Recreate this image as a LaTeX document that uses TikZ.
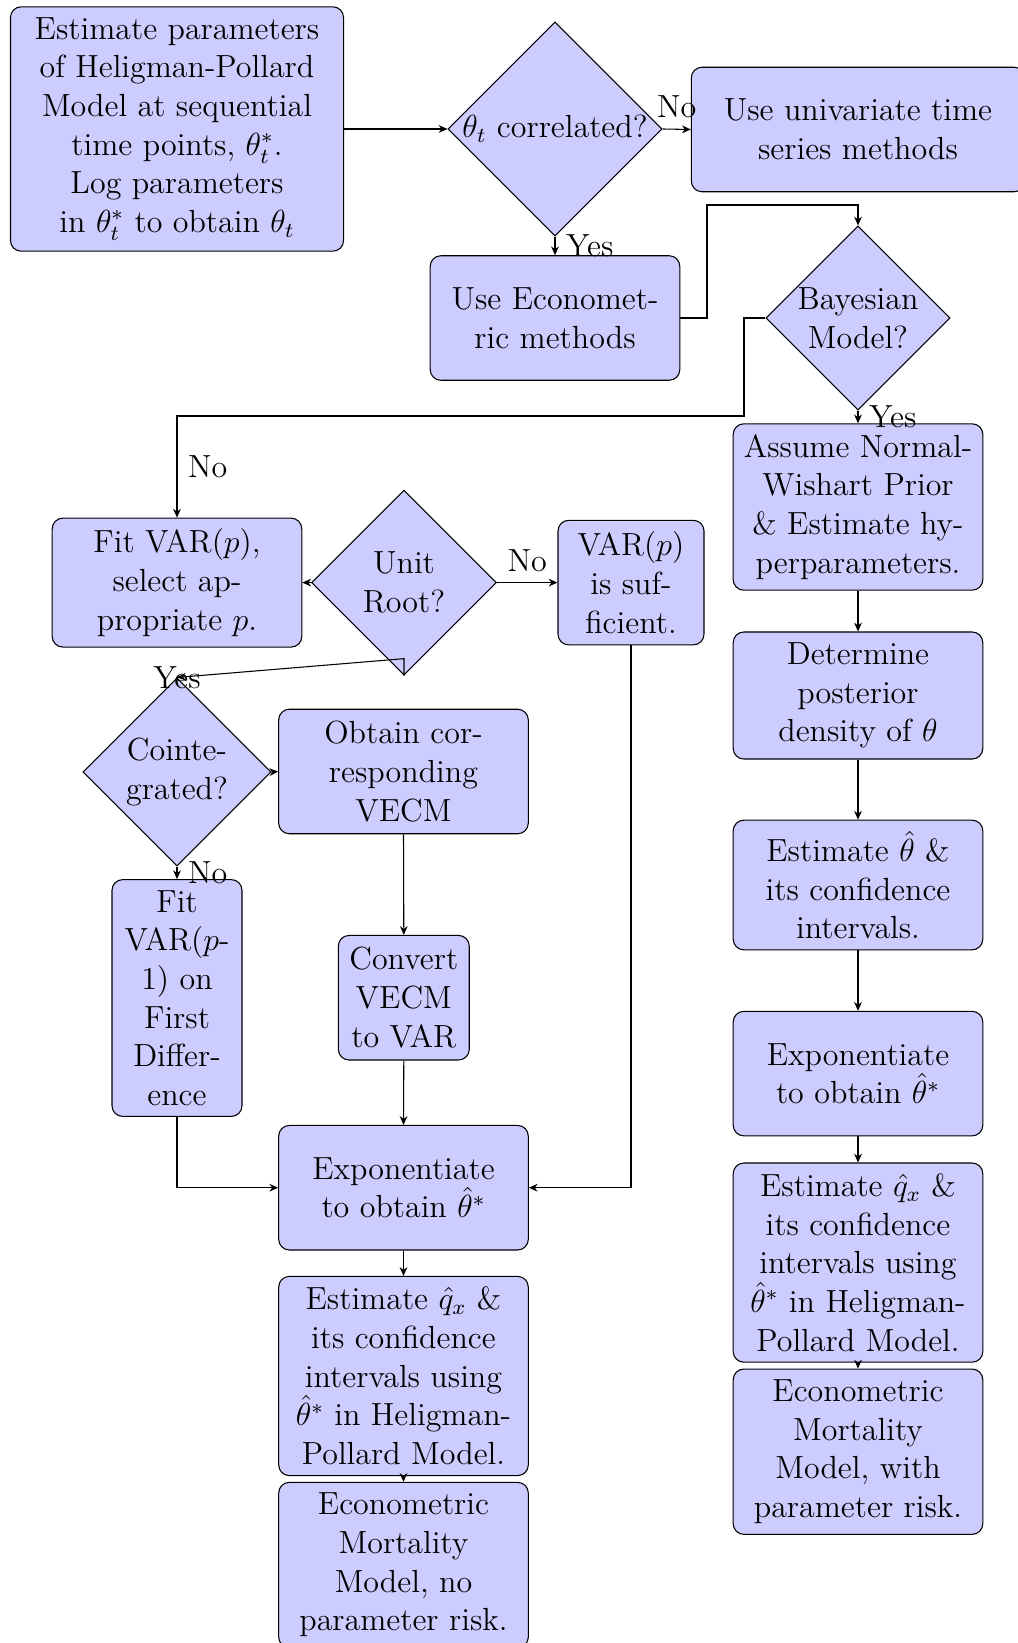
\documentclass[tikz,12pt,border=0pt]{standalone}
\usetikzlibrary{shapes.geometric,arrows.meta}
\begin{document}
\begin{tikzpicture}[x=0.375pt,y=-0.375pt,
  box/.style={rectangle, rounded corners, draw, fill=blue!20, align=center, minimum width=93.6pt, minimum height=46.7pt},
  dec/.style={diamond, draw, fill=blue!20, align=center, inner sep=0pt, aspect=1},
  conn/.style={draw, -{Stealth[length=3.3pt,width=2.9pt]}}]
\useasboundingbox (0,0) rectangle (1017,1643);
% nodes
\node[box, minimum width=124.9pt] (start) at (177,129) {Estimate parameters\\of Heligman-Pollard\\Model at sequential\\time points, $\theta_t^{*}$.\\Log parameters\\in $\theta_t^{*}$ to obtain $\theta_t$};
\node[dec, minimum width=80.25pt, minimum height=80.25pt] (corr) at (555,129) {$\theta_t$ correlated?};
\node[box, minimum width=125pt] (univ) at (858,129.5) {Use univariate time\\series methods};
\node[box] (econ) at (555,318) {Use Economet-\\ric methods};
\node[dec, minimum width=69pt, minimum height=69pt] (bayes) at (858,318) {Bayesian\\Model?};
\node[box] (assume) at (858,507) {Assume Normal-\\Wishart Prior\\\& Estimate hy-\\perparameters.};
\node[box] (fitvar) at (177,582.6) {Fit VAR($p$),\\select ap-\\propriate $p$.};
\node[dec, minimum width=69.4pt, minimum height=69.4pt] (unit) at (404,582.6) {Unit\\Root?};
\node[box, minimum width=54.75pt] (varsuf) at (631,582.6) {VAR($p$)\\is suf-\\ficient.};
\node[dec, minimum width=70.5pt, minimum height=70.5pt] (coint) at (177,772) {Cointe-\\grated?};
\node[box] (vecm) at (403.5,771.5) {Obtain cor-\\responding\\VECM};
\node[box, minimum width=48.75pt] (fitvarone) at (177,998) {Fit\\VAR($p$-\\1) on\\First\\Differ-\\ence};
\node[box, minimum width=49.1pt] (convert) at (403.8,997.7) {Convert\\VECM\\to VAR};
\node[box] (expl) at (403.5,1187.7) {Exponentiate\\to obtain $\hat{\theta}^{*}$};
\node[box] (qxl) at (403.5,1376) {Estimate $\hat{q}_x$ \&\\its confidence\\intervals using\\$\hat{\theta}^{*}$ in Heligman-\\Pollard Model.};
\node[box] (econl) at (403.5,1565) {Econometric\\Mortality\\Model, no\\parameter risk.};
\node[box] (det) at (858,695.5) {Determine\\posterior\\density of $\theta$};
\node[box] (esttheta) at (858,885) {Estimate $\hat{\theta}$ \&\\its confidence\\intervals.};
\node[box] (expr) at (858,1073.6) {Exponentiate\\to obtain $\hat{\theta}^{*}$};
\node[box] (qxr) at (858,1262.6) {Estimate $\hat{q}_x$ \&\\its confidence\\intervals using\\$\hat{\theta}^{*}$ in Heligman-\\Pollard Model.};
\node[box] (econr) at (858,1451.7) {Econometric\\Mortality\\Model, with\\parameter risk.};
% helper coordinates
\coordinate (ca) at (707,205);
\coordinate (cb) at (744,416);
% connectors
\path[conn] (start.east) -- (corr.west);
\path[conn] (corr.east) -- node[midway, above] {No} (univ.west);
\path[conn] (corr.south) -- node[midway, right] {Yes} (econ.north);
\path[conn] (econ.east) -| (ca) -| (bayes.north);
\path[conn] (bayes.west) -| (cb) -| node[pos=0.75, right] {No} (fitvar.north);
\path[conn] (bayes.south) -- node[midway, right] {Yes} (assume.north);
\path[conn] (assume.south) -- (det.north);
\path[conn] (det.south) -- (esttheta.north);
\path[conn] (esttheta.south) -- (expr.north);
\path[conn] (expr.south) -- (qxr.north);
\path[conn] (qxr.south) -- (econr.north);
\path[conn] (unit.west) -- (fitvar.east);
\path[conn] (unit.east) -- node[midway, above] {No} (varsuf.west);
\path[conn] (unit.south) -- ++(0,-17) -- (coint.north) node {Yes};
\path[conn] (coint.east) -- (vecm.west);
\path[conn] (coint.south) -- node[midway, right] {No} (fitvarone.north);
\path[conn] (vecm.south) -- (convert.north);
\path[conn] (convert.south) -- (expl.north);
\path[conn] (fitvarone.south) |- (expl.west);
\path[conn] (varsuf.south) |- (expl.east);
\path[conn] (expl.south) -- (qxl.north);
\path[conn] (qxl.south) -- (econl.north);
\end{tikzpicture}
\end{document}
